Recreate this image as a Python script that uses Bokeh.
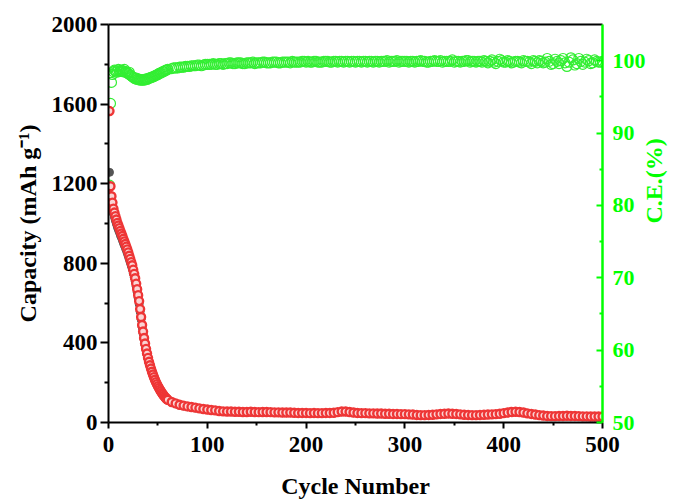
import math

from bokeh.plotting import figure
from bokeh.models import Range1d, LinearAxis, FixedTicker
from bokeh.embed import file_html
from bokeh.resources import INLINE

# Cycle numbers: every cycle through the steep fade, then every 4th cycle
cycles_early = list(range(1, 61))
cycles_late = list(range(64, 501, 4))
# extra efficiency readings between the 4-cycle steps
cycles_ce_mid = list(range(66, 499, 4))

# Charge capacity (mAh g-1)
charge_early = [1565, 1187, 1137, 1105, 1075, 1055, 1037, 1020, 1003, 990,
                977, 963, 950, 937, 923, 910, 897, 884, 870, 855,
                838, 822, 806, 790, 768, 747, 725, 698, 670, 640,
                610, 570, 530, 490, 457, 425, 397, 370, 347, 325,
                305, 288, 271, 255, 241, 228, 215, 203, 193, 183,
                174, 165, 157, 149, 142, 135, 129, 123, 118, 114]
charge_late = [103, 96, 89, 85, 81, 78, 75, 71, 68, 65,
               63, 61, 58, 56, 55, 55, 54, 54, 53, 53,
               54, 53, 52, 53, 53, 52, 51, 51, 50, 50,
               50, 49, 48, 48, 48, 47, 48, 47, 47, 48,
               48, 49, 52, 55, 55, 53, 50, 48, 47, 47,
               46, 46, 45, 45, 44, 44, 43, 43, 42, 42,
               41, 40, 38, 37, 37, 38, 39, 41, 43, 44,
               45, 44, 43, 41, 39, 38, 37, 37, 38, 39,
               40, 41, 42, 44, 47, 50, 53, 54, 53, 50,
               46, 43, 40, 37, 35, 33, 32, 32, 33, 33,
               34, 33, 33, 32, 31, 31, 30, 30, 30, 30]

# Discharge capacity (mAh g-1)
discharge_early = [1257, 1140, 1100, 1075, 1050, 1032, 1014, 998, 982, 969,
                   956, 942, 930, 917, 903, 891, 878, 865, 851, 836,
                   820, 804, 788, 772, 751, 730, 709, 683, 655, 626,
                   596, 557, 518, 479, 447, 416, 388, 362, 339, 318,
                   298, 282, 265, 250, 236, 223, 211, 199, 189, 179,
                   171, 162, 154, 146, 139, 133, 127, 121, 116, 112]
discharge_late = [101, 94, 87, 83, 79, 76, 73, 70, 67, 64,
                  62, 60, 57, 55, 54, 54, 53, 53, 52, 52,
                  53, 52, 51, 52, 52, 51, 50, 50, 49, 49,
                  49, 48, 47, 47, 47, 46, 47, 46, 46, 47,
                  47, 48, 51, 54, 54, 52, 49, 47, 46, 46,
                  45, 45, 44, 44, 43, 43, 42, 42, 41, 41,
                  40, 39, 37, 36, 36, 37, 38, 40, 42, 43,
                  44, 43, 42, 40, 38, 37, 36, 36, 37, 38,
                  39, 40, 41, 43, 46, 49, 52, 53, 52, 49,
                  45, 42, 39, 36, 34, 32, 31, 31, 32, 32,
                  33, 32, 32, 31, 30, 30, 29, 29, 29, 29]

# Coulombic efficiency (%)
ce_early = [82.8, 94.1, 97.0, 98.1, 98.5, 98.7, 98.6, 98.4, 98.6, 98.8,
            98.5, 98.6, 98.7, 98.5, 98.6, 98.8, 98.4, 98.5, 98.3, 98.2,
            98.4, 98.0, 97.9, 97.8, 97.7, 97.6, 97.5, 97.6, 97.4, 97.5,
            97.4, 97.3, 97.4, 97.3, 97.4, 97.3, 97.4, 97.5, 97.4, 97.5,
            97.6, 97.6, 97.7, 97.7, 97.8, 97.8, 97.9, 98.0, 98.0, 98.1,
            98.2, 98.3, 98.3, 98.4, 98.5, 98.5, 98.6, 98.7, 98.7, 98.8]
ce_late = [98.9, 99.0, 99.1, 99.1, 99.2, 99.3, 99.3, 99.4, 99.4, 99.5,
           99.5, 99.5, 99.6, 99.5, 99.6, 99.7, 99.6, 99.7, 99.6, 99.7,
           99.7, 99.6, 99.7, 99.8, 99.7, 99.7, 99.8, 99.7, 99.8, 99.8,
           99.7, 99.8, 99.8, 99.9, 99.8, 99.8, 99.9, 99.8, 99.8, 99.9,
           99.8, 99.9, 99.8, 99.9, 99.9, 99.8, 99.9, 99.9, 99.8, 99.9,
           99.9, 99.8, 99.9, 99.9, 99.9, 99.8, 99.9, 100.0, 99.9, 99.9,
           99.8, 99.9, 99.9, 100.0, 99.9, 99.8, 99.9, 99.9, 100.0, 99.9,
           99.9, 100.1, 99.9, 99.8, 99.9, 100.0, 99.9, 99.8, 99.9, 100.0,
           99.7, 100.1, 99.6, 100.2, 99.8, 100.0, 99.7, 99.9, 99.8, 100.0,
           99.9, 99.6, 99.9, 100.0, 99.7, 100.3, 99.5, 100.2, 99.6, 100.3,
           99.2, 100.4, 99.4, 100.3, 99.5, 100.2, 99.6, 100.1, 99.8, 99.9]
ce_mid = [99.0, 99.0, 99.1, 99.2, 99.2, 99.3, 99.4, 99.3, 99.5, 99.5,
          99.6, 99.5, 99.6, 99.6, 99.7, 99.6, 99.7, 99.7, 99.6, 99.7,
          99.8, 99.7, 99.7, 99.8, 99.7, 99.8, 99.8, 99.7, 99.8, 99.8,
          99.9, 99.8, 99.8, 99.9, 99.9, 99.8, 99.9, 99.8, 99.9, 99.9,
          99.8, 99.9, 99.9, 99.8, 99.9, 99.9, 99.8, 99.9, 99.9, 99.8,
          99.9, 99.9, 99.8, 99.9, 100.0, 99.9, 99.9, 99.8, 99.9, 99.9,
          99.9, 99.8, 99.9, 99.9, 99.8, 99.9, 100.0, 99.9, 99.8, 99.9,
          99.9, 99.8, 99.9, 99.9, 100.0, 99.8, 99.9, 99.9, 99.8, 99.9,
          99.9, 99.8, 99.9, 100.0, 99.8, 99.9, 99.8, 99.9, 99.7, 99.9,
          99.8, 100.0, 99.7, 99.9, 99.8, 99.9, 99.6, 99.9, 100.0, 99.7,
          99.8, 100.1, 99.6, 99.9, 99.8, 100.0, 99.7, 99.9, 99.8]

cycles = cycles_early + cycles_late
charge = charge_early + charge_late
discharge = discharge_early + discharge_late
ce_cycles = cycles_early + cycles_late + cycles_ce_mid
ce = ce_early + ce_late + ce_mid

x_ticks = [0, 100, 200, 300, 400, 500]
x_minor = [50, 150, 250, 350, 450]
cap_ticks = [0, 400, 800, 1200, 1600, 2000]
cap_minor = [200, 600, 1000, 1400, 1800]
ce_ticks = [50, 60, 70, 80, 90, 100]
ce_minor = [55, 65, 75, 85, 95]

FONT = "Liberation Serif"
GREEN = "#00ff00"

p = figure(width=682, height=501,
           x_range=Range1d(0, 500), y_range=Range1d(0, 2000),
           output_backend="svg", toolbar_location=None,
           min_border_left=108, min_border_right=80,
           min_border_top=24, min_border_bottom=77)
p.grid.visible = False
p.outline_line_color = None
p.background_fill_color = "white"
p.border_fill_color = "white"
p.extra_y_ranges = {"ce": Range1d(50, 105)}

# Efficiency rings sit underneath the capacity markers
p.scatter(ce_cycles, ce, y_range_name="ce", size=10, fill_color=None,
          line_color="#33ee33", line_width=1.2)
p.scatter(cycles, discharge, size=8, fill_color="#555555",
          line_color="#555555", line_width=1)
p.scatter(cycles, charge, size=8, fill_color="#fad4d4",
          line_color="#ee3636", line_width=2.4)


def style_axis(ax, color, tick_in, tick_out, minor_in, minor_out, standoff,
               label_size="23px"):
    ax.axis_line_color = color
    ax.axis_line_width = 2
    ax.major_tick_line_color = color
    ax.major_tick_line_width = 2
    ax.minor_tick_line_color = color
    ax.minor_tick_line_width = 2
    ax.major_tick_in = tick_in
    ax.major_tick_out = tick_out
    ax.minor_tick_in = minor_in
    ax.minor_tick_out = minor_out
    ax.major_label_text_font = FONT
    ax.major_label_text_font_style = "bold"
    ax.major_label_text_font_size = label_size
    ax.major_label_text_color = color
    ax.major_label_standoff = standoff
    ax.axis_label_text_font = FONT
    ax.axis_label_text_font_style = "bold"
    ax.axis_label_text_font_size = "24px"
    ax.axis_label_text_color = color


xa = p.xaxis[0]
xa.ticker = FixedTicker(ticks=x_ticks, minor_ticks=x_minor)
xa.axis_label = "Cycle Number"
style_axis(xa, "black", 0, 6, 0, 3, 8)
xa.axis_label_standoff = 18

ya = p.yaxis[0]
ya.ticker = FixedTicker(ticks=cap_ticks, minor_ticks=cap_minor)
ya.axis_label = "Capacity (mAh g\u207b\u00b9)"
style_axis(ya, "black", 0, 8, 0, 4, 3)
ya.axis_label_standoff = 8

ra = LinearAxis(y_range_name="ce",
                ticker=FixedTicker(ticks=ce_ticks, minor_ticks=ce_minor),
                axis_label="C.E.(%)")
style_axis(ra, GREEN, 6, 0, 3, 0, 10, label_size="22px")
ra.axis_line_width = 2.5
ra.axis_label_standoff = 5
ra.axis_label_orientation = math.pi / 2
p.add_layout(ra, "right")

top = LinearAxis(ticker=FixedTicker(ticks=[]))
top.axis_line_color = "black"
top.axis_line_width = 2
top.major_tick_line_color = None
top.minor_tick_line_color = None
top.major_label_text_font_size = "0px"
p.add_layout(top, "above")

open("out.html", "w").write(file_html(p, INLINE))
